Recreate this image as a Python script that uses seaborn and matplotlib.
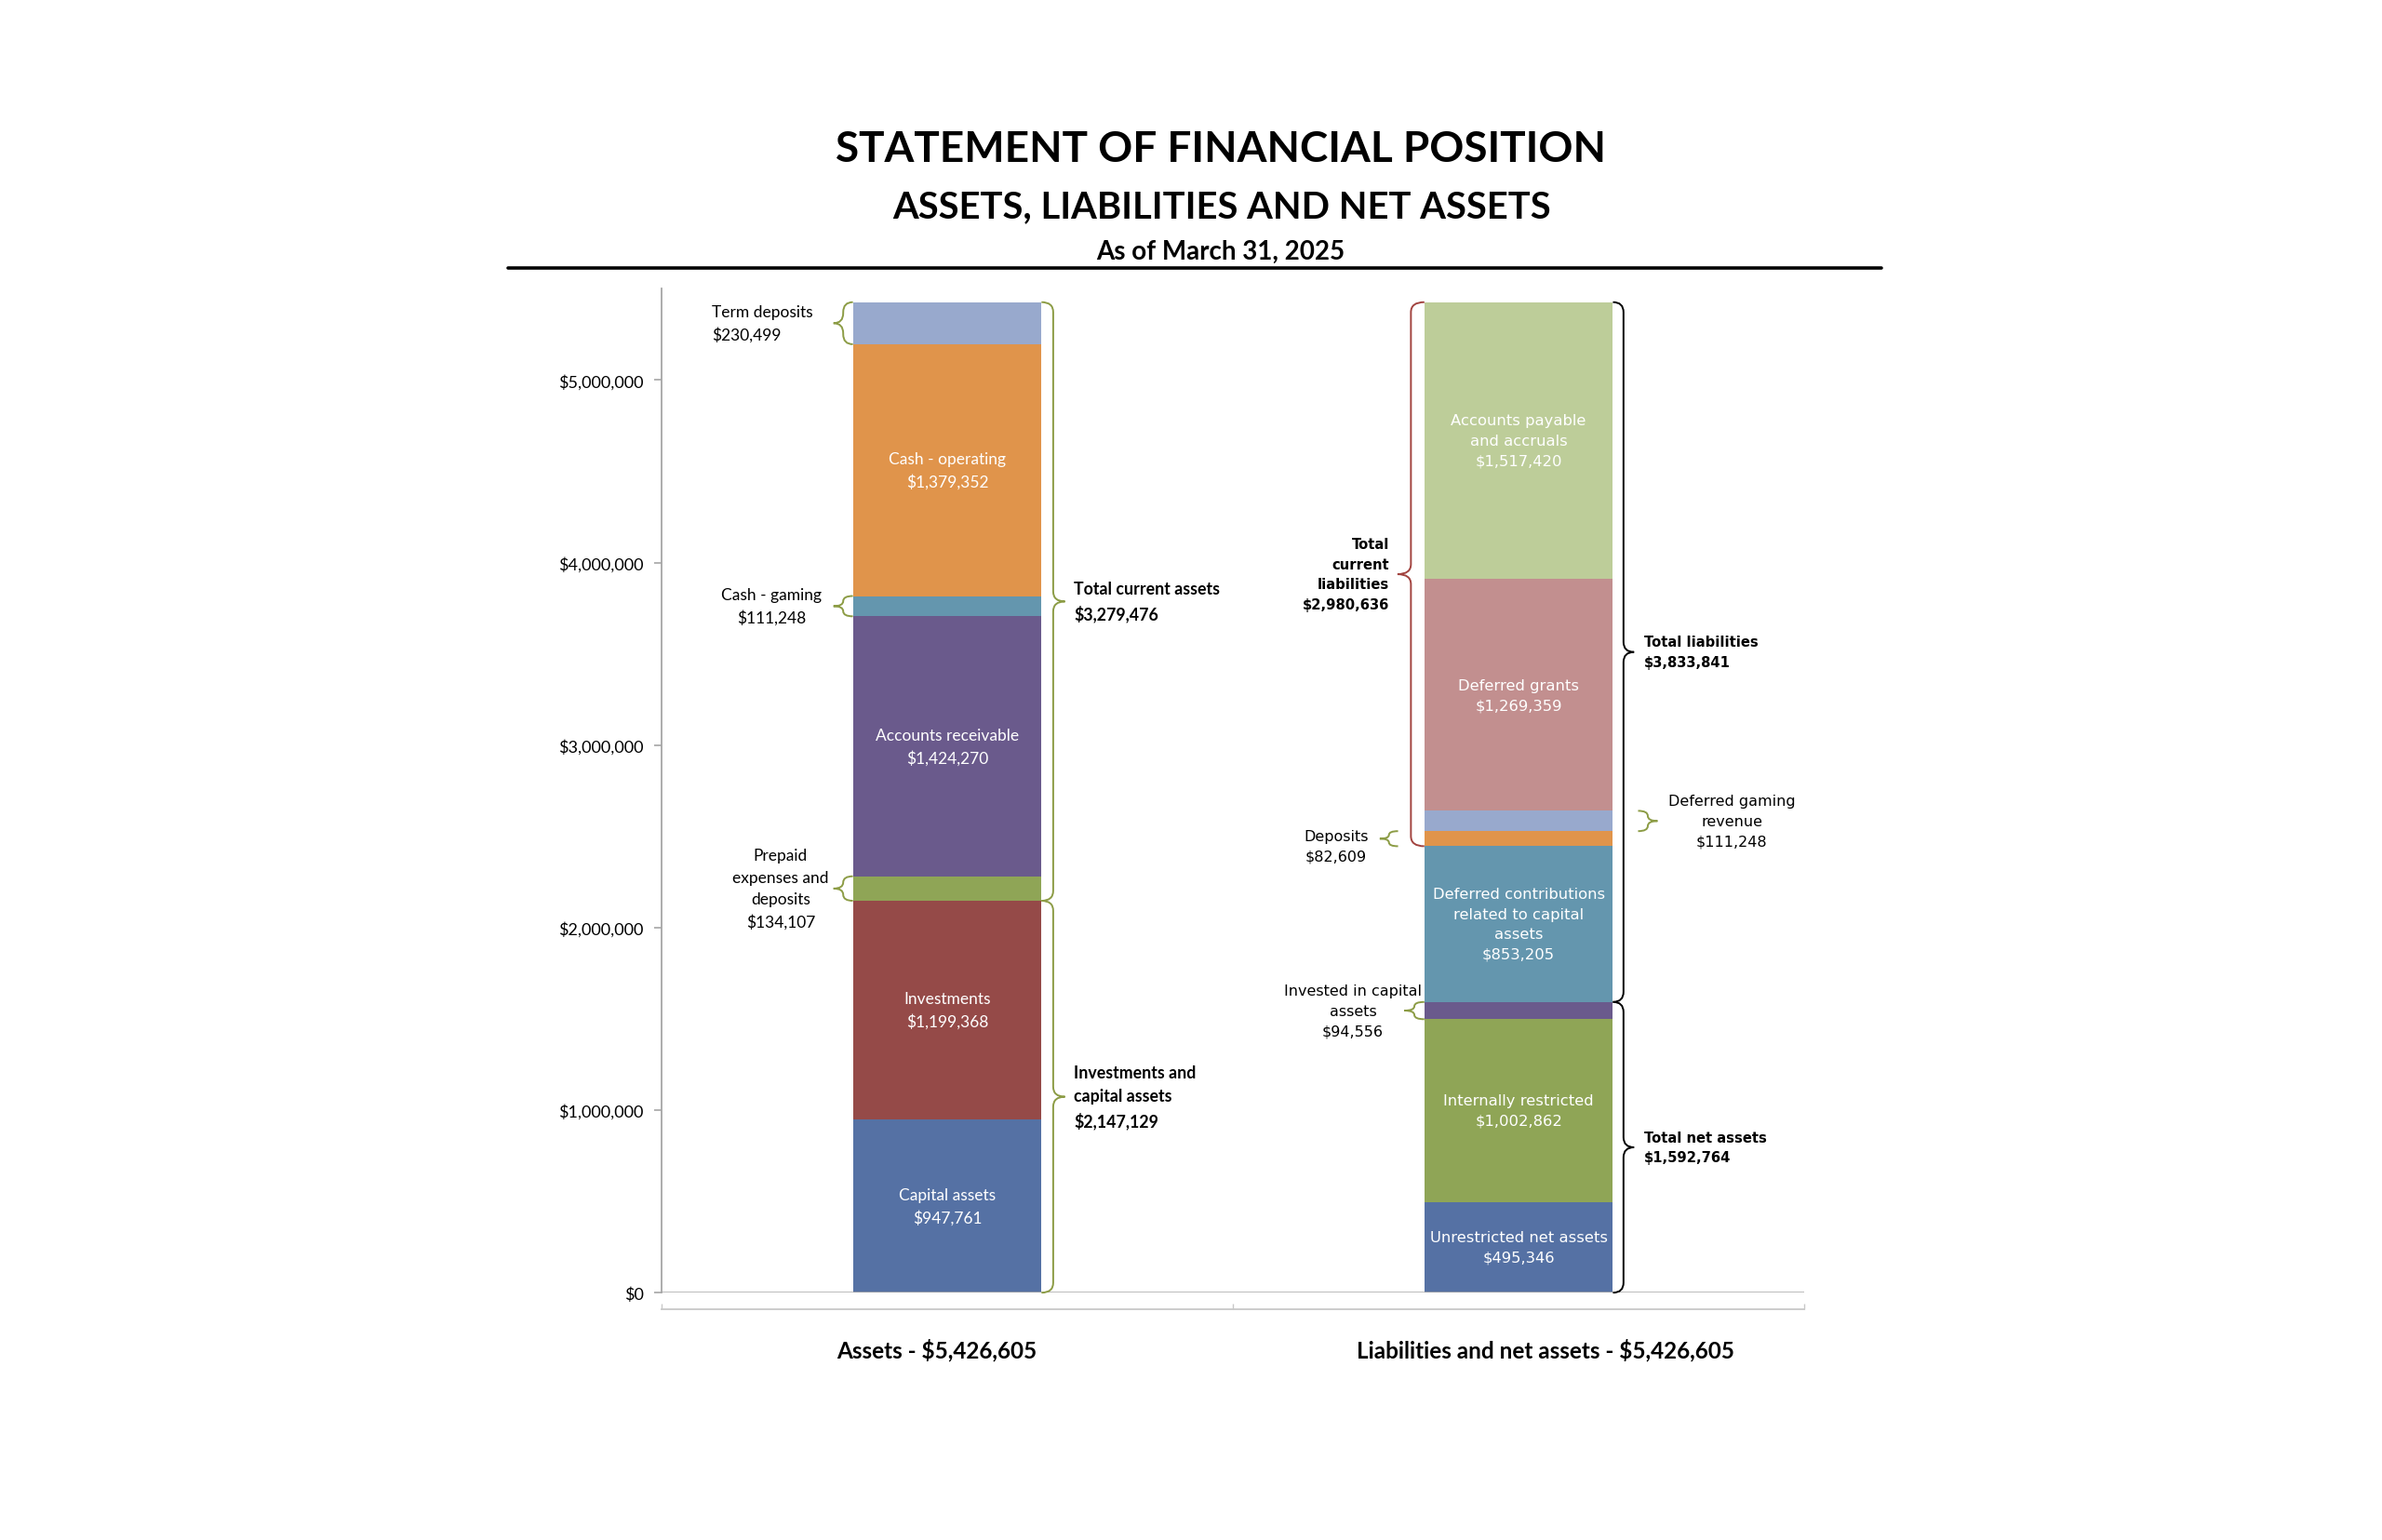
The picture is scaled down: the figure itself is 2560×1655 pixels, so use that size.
import numpy as np
import pandas as pd
import seaborn as sns
import matplotlib.pyplot as plt
from matplotlib.path import Path
from matplotlib.patches import PathPatch
from matplotlib.lines import Line2D
from matplotlib.ticker import FuncFormatter

# columns of the chart
sides = ["Assets - $5,426,605", "Liabilities and net assets - $5,426,605"]

# assets, bottom to top
asset_names = ["Capital assets", "Investments", "Prepaid\nexpenses and\ndeposits",
               "Accounts receivable", "Cash - gaming", "Cash - operating", "Term deposits"]
asset_values = [947761, 1199368, 134107, 1424270, 111248, 1379352, 230499]
asset_colors = ["#5571A4", "#954A48", "#8FA556", "#6A5A8C", "#6496AE", "#E0944B", "#98A9CD"]

# liabilities and net assets, bottom to top
liab_names = ["Unrestricted net assets", "Internally restricted", "Invested in capital\nassets",
              "Deferred contributions\nrelated to capital\nassets", "Deposits",
              "Deferred gaming\nrevenue", "Deferred grants", "Accounts payable\nand accruals"]
liab_values = [495346, 1002862, 94556, 853205, 82609, 111248, 1269359, 1517420]
liab_colors = ["#5571A4", "#8FA556", "#6A5A8C", "#6496AE", "#E0944B", "#98A9CD", "#C28F8F", "#BDCD99"]

# which segments carry their label inside the bar
asset_inside = [True, True, False, True, False, True, False]
liab_inside = [True, True, False, True, False, False, True, True]

FONT = ["Lato", "DejaVu Sans"]
FONT_R = ["DejaVu Sans"]
LS = 1.55

df = pd.concat([
    pd.DataFrame({"side": sides[0], "name": asset_names, "value": asset_values,
                  "color": asset_colors, "inside": asset_inside}),
    pd.DataFrame({"side": sides[1], "name": liab_names, "value": liab_values,
                  "color": liab_colors, "inside": liab_inside}),
], ignore_index=True)
df["top"] = df.groupby("side")["value"].cumsum()
df["bottom"] = df["top"] - df["value"]
df["pos"] = df["side"].map({s: i for i, s in enumerate(sides)})

sns.set_theme(style="white")
plt.rcParams["font.family"] = FONT
plt.rcParams["text.color"] = "black"
plt.rcParams["xtick.labelcolor"] = "black"
plt.rcParams["ytick.labelcolor"] = "black"

fig = plt.figure(figsize=(25.6, 16.56), dpi=100)
ax = fig.add_axes([0.2777, 0.1605, 0.4798, 0.6515])

W = 0.33
# stacked bars: draw cumulative tops from highest to lowest so each covers the one above it
for _, r in df.sort_values("top", ascending=False).iterrows():
    sns.barplot(x=[r["side"]], y=[r["top"]], order=sides, color=r["color"],
                width=W, saturation=1, errorbar=None, ax=ax, linewidth=0)

def money(v):
    return f"${v:,.0f}"

for _, r in df[df["inside"]].iterrows():
    fam = FONT if r["pos"] == 0 else FONT_R
    ax.text(r["pos"], r["bottom"] + r["value"] / 2, f"{r['name']}\n{money(r['value'])}",
            ha="center", va="center", color="white", fontsize=12.5 if r["pos"] == 0 else 11.8,
            family=fam, linespacing=LS)


def brace(x, depth, y0, y1, color, r=5.5e4):
    r = min(r, (y1 - y0) / 4)
    ym = (y0 + y1) / 2
    xm = x + depth / 2
    xt = x + depth
    verts = [(x, y0), (xm, y0), (xm, y0 + r),
             (xm, ym - r), (xm, ym), (xt, ym),
             (xm, ym), (xm, ym + r),
             (xm, y1 - r), (xm, y1), (x, y1)]
    codes = [Path.MOVETO, Path.CURVE3, Path.CURVE3,
             Path.LINETO, Path.CURVE3, Path.CURVE3,
             Path.CURVE3, Path.CURVE3,
             Path.LINETO, Path.CURVE3, Path.CURVE3]
    ax.add_patch(PathPatch(Path(verts, codes), fill=False, edgecolor=color,
                           lw=1.4, clip_on=False, zorder=5))


OLIVE = "#8C9C45"
DRED = "#A2433F"
a = df[df["pos"] == 0].reset_index(drop=True)
l = df[df["pos"] == 1].reset_index(drop=True)
h = W / 2

# asset side, small braces on the left
for i, ha_, dx in [(6, "left", -0.412), (4, "center", -0.308), (2, "center", -0.2915)]:
    brace(-h, -0.034, a.loc[i, "bottom"], a.loc[i, "top"], OLIVE)
    ax.text(dx, (a.loc[i, "bottom"] + a.loc[i, "top"]) / 2,
            f"{a.loc[i, 'name']}\n{money(a.loc[i, 'value'])}",
            ha=ha_, va="center", multialignment=ha_, fontsize=12.5, linespacing=LS)

# asset side, totals on the right
cur_lo, cur_hi = a.loc[2, "bottom"], a.loc[6, "top"]
inv_lo, inv_hi = a.loc[0, "bottom"], a.loc[1, "top"]
brace(h, 0.041, cur_lo, cur_hi, OLIVE)
brace(h, 0.041, inv_lo, inv_hi, OLIVE)
ax.text(0.2215, (cur_lo + cur_hi) / 2, f"Total current assets\n{money(cur_hi - cur_lo)}",
        ha="left", va="center", fontsize=12.8, fontweight="bold", linespacing=LS)
ax.text(0.2215, (inv_lo + inv_hi) / 2, f"Investments and\ncapital assets\n{money(inv_hi - inv_lo)}",
        ha="left", va="center", fontsize=12.8, fontweight="bold", linespacing=LS)

# liabilities side
cl_lo, cl_hi = l.loc[4, "bottom"], l.loc[7, "top"]
tl_lo, tl_hi = l.loc[3, "bottom"], l.loc[7, "top"]
na_lo, na_hi = l.loc[0, "bottom"], l.loc[2, "top"]
brace(1 - h, -0.047, cl_lo, cl_hi, DRED)
ax.text(0.7736, (cl_lo + cl_hi) / 2, f"Total\ncurrent\nliabilities\n{money(cl_hi - cl_lo)}",
        ha="right", va="center", multialignment="right", fontsize=10.6,
        fontweight="bold", family=FONT_R, linespacing=LS)
brace(1 + h, 0.037, tl_lo, tl_hi, "black")
brace(1 + h, 0.037, na_lo, na_hi, "black")
ax.text(1.2199, (tl_lo + tl_hi) / 2, f"Total liabilities\n{money(tl_hi - tl_lo)}",
        ha="left", va="center", fontsize=10.6, fontweight="bold", family=FONT_R, linespacing=LS)
ax.text(1.2199, (na_lo + na_hi) / 2, f"Total net assets\n{money(na_hi - na_lo)}",
        ha="left", va="center", fontsize=10.6, fontweight="bold", family=FONT_R, linespacing=LS)

# small liability items
brace(1 - h - 0.046, -0.032, l.loc[4, "bottom"], l.loc[4, "top"], OLIVE)
ax.text(0.6808, l.loc[4, "bottom"], f"{l.loc[4, 'name']}\n{money(l.loc[4, 'value'])}",
        ha="center", va="center", fontsize=11.5, family=FONT_R, linespacing=LS)
brace(1 - h, -0.035, l.loc[2, "bottom"], l.loc[2, "top"], OLIVE)
ax.text(0.71, (l.loc[2, "bottom"] + l.loc[2, "top"]) / 2,
        f"{l.loc[2, 'name']}\n{money(l.loc[2, 'value'])}",
        ha="center", va="center", fontsize=11.5, family=FONT_R, linespacing=LS)
brace(1 + h + 0.044, 0.034, l.loc[5, "bottom"], l.loc[5, "top"], OLIVE)
ax.text(1.373, (l.loc[5, "bottom"] + l.loc[5, "top"]) / 2,
        f"{l.loc[5, 'name']}\n{money(l.loc[5, 'value'])}",
        ha="center", va="center", fontsize=11.5, family=FONT_R, linespacing=LS)

# axes styling
GRAY = "#A6A6A6"
ax.set_xlim(-0.5, 1.5)
ax.set_ylim(0, 5.5e6)
ax.set_yticks(np.arange(0, 5.5e6, 1e6))
ax.yaxis.set_major_formatter(FuncFormatter(lambda v, p: money(v)))
ax.set_xlabel("")
ax.set_ylabel("")
for s in ["top", "right"]:
    ax.spines[s].set_visible(False)
ax.spines["left"].set_color(GRAY)
ax.spines["left"].set_linewidth(1.3)
ax.spines["bottom"].set_position(("outward", 13))
ax.spines["bottom"].set_color("#C8C8C8")
ax.spines["bottom"].set_linewidth(1.3)
ax.axhline(0, color=GRAY, lw=1.8, zorder=4)
ax.tick_params(axis="y", which="major", length=6, width=1.2, color=GRAY,
               labelsize=13, pad=8, left=True, labelcolor="black")
ax.tick_params(axis="x", which="major", length=0, labelbottom=False)
ax.set_xticks([-0.5, 0.5, 1.5], minor=True)
ax.tick_params(axis="x", which="minor", direction="in", length=4, color="#C8C8C8", bottom=True)

# category captions under the axis (Excel draws them a little off-centre)
for i, (s, dx) in enumerate(zip(sides, [-0.019, 0.047])):
    ax.text(i + dx, -0.0565, s, transform=ax.get_xaxis_transform(), ha="center",
            va="center", fontsize=17.5, fontweight="bold")

# title block
fig.text(0.5125, 0.9028, "STATEMENT OF FINANCIAL POSITION", ha="center", va="center",
         fontsize=33, fontweight="bold", color="black")
fig.text(0.513, 0.8653, "ASSETS, LIABILITIES AND NET ASSETS", ha="center", va="center",
         fontsize=28.7, fontweight="bold", color="black")
fig.text(0.5125, 0.8364, "As of March 31, 2025", ha="center", va="center",
         fontsize=20, fontweight="bold", color="black")
fig.add_artist(Line2D([0.2133, 0.790], [0.8255, 0.8255], color="black", lw=2.6,
                      transform=fig.transFigure))

fig.savefig("out.png", dpi=100, facecolor="white")
